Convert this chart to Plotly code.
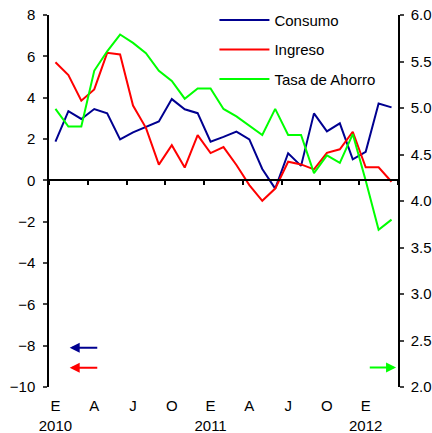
"""Consumo, ingreso y tasa de ahorro, variación anual (Ene 2010 - Mar 2012)."""

import plotly.graph_objects as go

C_CONSUMO = "#000090"
C_INGRESO = "#FF0000"
C_AHORRO = "#00FF00"
FONT = "Liberation Sans, Arial, sans-serif"

# monthly points, Jan 2010 .. Mar 2012
months = list(range(27))
consumo = [1.87, 3.35, 2.97, 3.45, 3.24, 1.98, 2.32, 2.60, 2.85, 3.93, 3.44, 3.25, 1.87, 2.10,
           2.36, 1.98, 0.55, -0.40, 1.31, 0.70, 3.24, 2.37, 2.76, 1.02, 1.38, 3.72, 3.53]
ingreso = [5.71, 5.09, 3.85, 4.40, 6.17, 6.09, 3.62, 2.54, 0.76, 1.70, 0.62, 2.19, 1.32, 1.61,
           0.74, -0.23, -0.99, -0.40, 0.90, 0.77, 0.53, 1.33, 1.50, 2.35, 0.63, 0.63, -0.07]
ahorro = [4.99, 4.80, 4.80, 5.40, 5.61, 5.79, 5.70, 5.59, 5.40, 5.29, 5.10, 5.21, 5.21, 4.99,
          4.91, 4.81, 4.71, 4.99, 4.71, 4.71, 4.30, 4.49, 4.41, 4.72, 4.22, 3.69, 3.80]

label_months = [0, 3, 6, 9, 12, 15, 18, 21, 24]
label_text = ["E<br>2010", "A", "J", "O", "E<br>2011", "A", "J", "O", "E<br>2012"]
quarter_edges = [m - 0.5 for m in range(0, 28, 3)]

fig = go.Figure()
series = [("Consumo", consumo, C_CONSUMO, "y"),
          ("Ingreso", ingreso, C_INGRESO, "y"),
          ("Tasa de Ahorro", ahorro, C_AHORRO, "y2")]
for name, vals, color, yax in series:
    fig.add_trace(go.Scatter(
        x=months, y=vals, name=name, mode="lines", yaxis=yax,
        line=dict(color=color, width=2), legendgroup=name,
    ))

# invisible carrier so the zero-line axis (x2) gets drawn
fig.add_trace(go.Scatter(
    x=months, y=consumo, xaxis="x2", mode="lines", opacity=0,
    showlegend=False, hoverinfo="skip", line=dict(width=0),
))

fig.update_layout(
    width=432, height=433,
    margin=dict(l=49, r=34, t=15, b=46, autoexpand=False),
    plot_bgcolor="white", paper_bgcolor="white",
    font=dict(family=FONT, size=15, color="black"),
    showlegend=True,
    legend=dict(
        x=0.474, y=1.03, xanchor="left", yanchor="top",
        bgcolor="rgba(0,0,0,0)", traceorder="grouped", tracegroupgap=7,
        itemwidth=50, font=dict(size=15),
    ),
    xaxis=dict(
        range=[-0.5, 26.5], tickvals=label_months, ticktext=label_text,
        ticks="", showline=False, showgrid=False, zeroline=False,
        tickfont=dict(size=15), automargin=False, ticklabelstandoff=8,
    ),
    xaxis2=dict(
        range=[-0.5, 26.5], overlaying="x", anchor="free", position=10 / 18,
        tickvals=quarter_edges, showticklabels=False, ticks="outside",
        ticklen=4, tickwidth=1.5, tickcolor="black",
        showline=True, linecolor="black", linewidth=1.5,
        showgrid=False, zeroline=False, automargin=False,
    ),
    yaxis=dict(
        range=[-10, 8], dtick=2, ticks="outside", ticklen=4, tickwidth=1.5,
        showline=True, linecolor="black", linewidth=1.5,
        showgrid=False, zeroline=False, tickfont=dict(size=15),
        automargin=False, ticklabelstandoff=5,
    ),
    yaxis2=dict(
        range=[2, 6], dtick=0.5, tickformat=".1f", overlaying="y", side="right",
        ticks="outside", ticklen=4, tickwidth=1.5,
        showline=True, linecolor="black", linewidth=1.5,
        showgrid=False, zeroline=False, tickfont=dict(size=15),
        automargin=False, ticklabelstandoff=4,
    ),
)

# arrows pointing to the axis each series belongs to
for color, yv in [(C_CONSUMO, -8.1), (C_INGRESO, -9.07)]:
    fig.add_annotation(
        x=1.1, y=yv, ax=3.35, ay=yv, xref="x", yref="y", axref="x", ayref="y",
        text="", showarrow=True, arrowhead=2, arrowsize=1, arrowwidth=2,
        arrowcolor=color,
    )
fig.add_annotation(
    x=26.35, y=2.21, ax=24.2, ay=2.21, xref="x", yref="y2", axref="x", ayref="y2",
    text="", showarrow=True, arrowhead=2, arrowsize=1, arrowwidth=2,
    arrowcolor=C_AHORRO,
)

# page body has a default 8px margin; drop it so the 432x433 figure sits at the origin
fig.write_html(
    "out.html",
    config={"displayModeBar": False},
    post_script="document.body.style.margin = '0';",
)
